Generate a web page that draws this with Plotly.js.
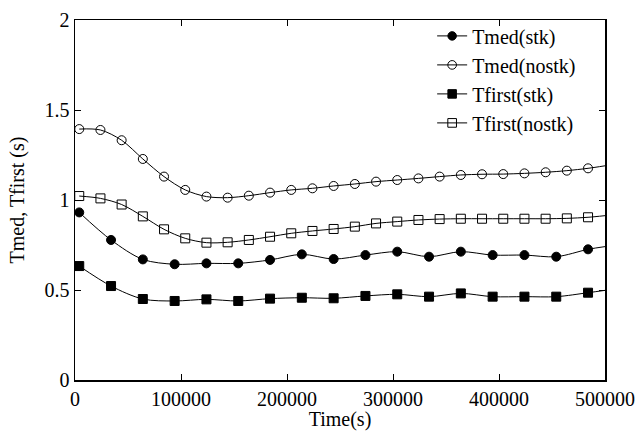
<!DOCTYPE html>
<html>
<head>
<meta charset="utf-8">
<script src="https://cdn.plot.ly/plotly-3.0.1.min.js"></script>
<style>html,body{margin:0;padding:0;background:#fff;}#chart{width:639px;height:431px;}</style>
</head>
<body>
<div id="chart"></div>
<script>
// ---- data ----
const xNostk = [4000, 24000, 44000, 64000, 84000, 104000, 124000, 144000, 164000, 184000, 204000, 224000, 244000,
                264000, 284000, 304000, 324000, 344000, 364000, 384000, 404000, 424000, 444000, 464000, 484000];
const xStk = [4000, 34000, 64000, 94000, 124000, 154000, 184000, 214000, 244000,
              274000, 304000, 334000, 364000, 394000, 424000, 454000, 484000];

const tmedStk = [0.931, 0.778, 0.670, 0.643, 0.648, 0.648, 0.667, 0.698, 0.672,
                 0.694, 0.713, 0.685, 0.713, 0.694, 0.694, 0.685, 0.726];
const tmedNostk = [1.394, 1.389, 1.332, 1.228, 1.130, 1.056, 1.019, 1.013, 1.024, 1.041, 1.056, 1.065, 1.078,
                   1.089, 1.102, 1.111, 1.120, 1.130, 1.139, 1.143, 1.144, 1.148, 1.154, 1.163, 1.176];
const tfirstStk = [0.633, 0.522, 0.450, 0.439, 0.448, 0.439, 0.452, 0.457, 0.454,
                   0.467, 0.476, 0.463, 0.481, 0.463, 0.463, 0.463, 0.485];
const tfirstNostk = [1.022, 1.009, 0.975, 0.909, 0.837, 0.787, 0.763, 0.765, 0.778, 0.796, 0.815, 0.828, 0.839,
                     0.852, 0.870, 0.880, 0.889, 0.894, 0.896, 0.896, 0.896, 0.896, 0.896, 0.898, 0.904];

// curve continuation to the right edge of the plot
const xEnd = 500000;
const tmedStkEnd = 0.741;
const tmedNostkEnd = 1.19;
const tfirstStkEnd = 0.498;
const tfirstNostkEnd = 0.913;

const seriesNames = ['Tmed(stk)', 'Tmed(nostk)', 'Tfirst(stk)', 'Tfirst(nostk)'];

const xTickVals = [0, 100000, 200000, 300000, 400000, 500000];
const xTickText = ['0', '100000', '200000', '300000', '400000', '500000'];
const yTickVals = [0, 0.5, 1, 1.5, 2];
const yTickText = ['0', '0.5', '1', '1.5', '2'];

// ---- build ----
const FONT = 'Liberation Serif';

function series(name, xs, ys, yEnd, symbol, msize) {
  const x = xs.concat([xEnd]);
  const y = ys.concat([yEnd]);
  const sizes = xs.map(() => msize).concat([0]);
  return {
    type: 'scatter', mode: 'lines+markers', name: name,
    x: x, y: y, cliponaxis: true,
    line: {color: '#000', width: 1, shape: 'spline', smoothing: 0.9},
    marker: {symbol: symbol, size: sizes, color: '#000', opacity: 1, line: {color: '#000', width: 1}}
  };
}

const data = [
  series(seriesNames[0], xStk, tmedStk, tmedStkEnd, 'circle', 9),
  series(seriesNames[1], xNostk, tmedNostk, tmedNostkEnd, 'circle-open', 9),
  series(seriesNames[2], xStk, tfirstStk, tfirstStkEnd, 'square', 9),
  series(seriesNames[3], xNostk, tfirstNostk, tfirstNostkEnd, 'square-open', 9)
];

const layout = {
  width: 639, height: 431,
  margin: {l: 75, r: 34, t: 20, b: 51, pad: 0},
  paper_bgcolor: '#fff', plot_bgcolor: '#fff',
  font: {family: FONT, size: 20, color: '#000'},
  showlegend: true,
  legend: {
    x: 0.955, xanchor: 'right', y: 1.01, yanchor: 'top',
    bgcolor: 'rgba(0,0,0,0)', borderwidth: 0,
    font: {family: FONT, size: 20, color: '#000'}
  },
  xaxis: {
    range: [0, 500000], tickmode: 'array', tickvals: xTickVals, ticktext: xTickText,
    ticks: 'inside', ticklen: 6, tickwidth: 1, tickcolor: '#000',
    showline: true, linecolor: '#000', linewidth: 1.5, mirror: 'allticks',
    showgrid: false, zeroline: false,
    tickfont: {family: FONT, size: 20, color: '#000'},
    title: {text: 'Time(s)', font: {family: FONT, size: 20, color: '#000'}, standoff: 4}
  },
  yaxis: {
    range: [0, 2], tickmode: 'array', tickvals: yTickVals, ticktext: yTickText,
    ticks: 'inside', ticklen: 6, tickwidth: 1, tickcolor: '#000',
    showline: true, linecolor: '#000', linewidth: 1.5, mirror: 'allticks',
    showgrid: false, zeroline: false,
    tickfont: {family: FONT, size: 20, color: '#000'},
    title: {text: 'Tmed, Tfirst (s)', font: {family: FONT, size: 20, color: '#000'}, standoff: 14}
  }
};

Plotly.newPlot('chart', data, layout, {staticPlot: true, displayModeBar: false});
</script>
</body>
</html>
